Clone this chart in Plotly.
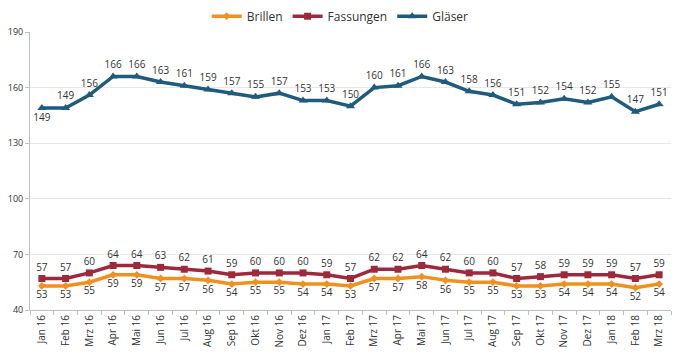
import plotly.graph_objects as go

months = ["Jan 16","Feb 16","Mrz 16","Apr 16","Mai 16","Jun 16","Jul 16","Aug 16","Sep 16","Okt 16","Nov 16","Dez 16",
          "Jan 17","Feb 17","Mrz 17","Apr 17","Mai 17","Jun 17","Jul 17","Aug 17","Sep 17","Okt 17","Nov 17","Dez 17",
          "Jan 18","Feb 18","Mrz 18"]
glaeser = [149,149,156,166,166,163,161,159,157,155,157,153,153,150,160,161,166,163,158,156,151,152,154,152,155,147,151]
fassungen = [57,57,60,64,64,63,62,61,59,60,60,60,59,57,62,62,64,62,60,60,57,58,59,59,59,57,59]
brillen = [53,53,55,59,59,57,57,56,54,55,55,54,54,53,57,57,58,56,55,55,53,53,54,54,54,52,54]

font = "Open Sans, Liberation Sans, sans-serif"
tfont = dict(family=font, size=10, color="#333333")

fig = go.Figure()
fig.add_trace(go.Scatter(x=months, y=brillen, name="Brillen", mode="lines+markers+text",
    line=dict(color="#F0901E", width=3.5), marker=dict(symbol="diamond", size=6, color="#F0901E"),
    text=[str(v) for v in brillen], textposition="bottom center", textfont=tfont, cliponaxis=False))
fig.add_trace(go.Scatter(x=months, y=fassungen, name="Fassungen", mode="lines+markers+text",
    line=dict(color="#9C2A3C", width=3.5), marker=dict(symbol="square", size=7, color="#9C2A3C"),
    text=[str(v) for v in fassungen], textposition="top center", textfont=tfont, cliponaxis=False))
gpos = ["bottom center"] + ["top center"] * (len(glaeser) - 1)
fig.add_trace(go.Scatter(x=months, y=glaeser, name="Gläser", mode="lines+markers+text",
    line=dict(color="#1F5B7D", width=3.5), marker=dict(symbol="triangle-up", size=8, color="#1F5B7D"),
    text=[str(v) for v in glaeser], textposition=gpos, textfont=tfont, cliponaxis=False))

fig.update_layout(
    width=672, height=351,
    margin=dict(l=22, r=9, t=24, b=49, autoexpand=False),
    paper_bgcolor="white", plot_bgcolor="white",
    font=dict(family=font, size=10, color="#333333"),
    legend=dict(orientation="h", x=0.484, xanchor="center", y=1.057, yanchor="middle",
                font=dict(family=font, size=12, color="#333333"), traceorder="normal",
                itemwidth=30, tracegroupgap=0),
    showlegend=True,
)
fig.update_xaxes(type="category", range=[-0.5, 26.5], tickangle=-90, showgrid=False, automargin=False,
                 showline=True, linecolor="#BFBFBF", ticks="outside", tickson="boundaries",
                 ticklen=4, tickcolor="#BFBFBF", tickfont=dict(family=font, size=10, color="#333333"))
fig.update_yaxes(range=[40, 190], tickvals=[40,70,100,130,160,190], showgrid=True, gridcolor="#E8E8E8",
                 showline=True, linecolor="#BFBFBF", ticks="outside", ticklen=4, tickcolor="#BFBFBF",
                 zeroline=False, automargin=False, tickfont=dict(family=font, size=9, color="#333333"))

fig.write_html("out.html")
